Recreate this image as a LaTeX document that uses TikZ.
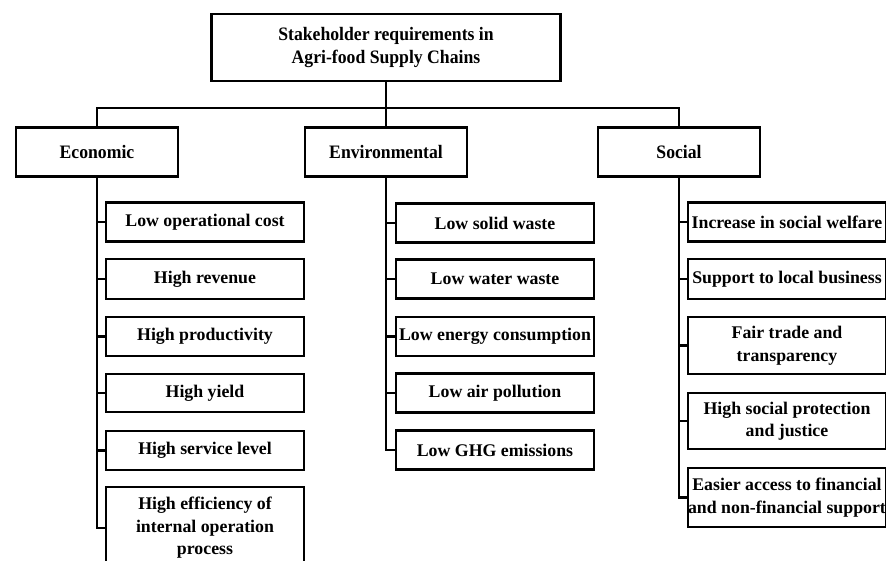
\documentclass[tikz,border=0pt]{standalone}
\usepackage{fontspec}
\setmainfont{Liberation Serif}
\newfontfamily\headfont[FakeStretch=0.93]{Liberation Serif}

\tikzset{
  headbox/.style={draw, line width=2.4pt, inner sep=0pt, align=center,
    minimum width=162pt, minimum height=49pt,
    font=\headfont\bfseries\fontsize{19}{22.5}\selectfont},
  itembox/.style={draw, line width=2.1pt, inner sep=0pt, align=center,
    minimum width=198pt,
    font=\bfseries\fontsize{17.8}{22.5}\selectfont},
  link/.style={line width=2.1pt},
}

\begin{document}
\begin{tikzpicture}[x=1pt, y=-1pt]
\useasboundingbox (0,0) rectangle (886,561);

% --- Root ---
\node[headbox, minimum width=349pt, minimum height=67pt] (root) at (386,47.5)
    {Stakeholder requirements in\\Agri-food Supply Chains};

% --- Three pillars ---
\node[headbox] (eco) at (97,152) {Economic};
\node[headbox] (env) at (386,152) {Environmental};
\node[headbox] (soc) at (679,152) {Social};

\draw[link] (root.south) -- (env.north);
\draw[link] (eco.north) -- ++(0,-18.5) -| (soc.north);

% --- Economic ---
\foreach \name/\ypos/\boxh/\txt in {
    e1/222/39/{Low operational cost},
    e2/279/40/{High revenue},
    e3/336.5/39/{High productivity},
    e4/393/38/{High yield},
    e5/450.5/39/{High service level},
    e6/528/82/{High efficiency of\\internal operation\\process}}
  \node[itembox, minimum height=\boxh pt] (\name) at (205,\ypos) {\txt};
\foreach \name in {e1,e2,e3,e4,e5}
  \draw[link] (eco.south |- \name.west) -- (\name.west);
\draw[link] (eco.south) |- (e6.west);

% --- Environmental ---
\foreach \name/\ypos/\txt in {
    v1/223/{Low solid waste},
    v2/279/{Low water waste},
    v3/336.5/{Low energy consumption},
    v4/393/{Low air pollution},
    v5/450/{Low GHG emissions}}
  \node[itembox, minimum height=39pt] (\name) at (495,\ypos) {\txt};
\foreach \name in {v1,v2,v3,v4}
  \draw[link] (env.south |- \name.west) -- (\name.west);
\draw[link] (env.south) |- (v5.west);

% --- Social ---
\foreach \name/\ypos/\boxh/\txt in {
    s1/222/39/{Increase in social welfare},
    s2/279/40/{Support to local business},
    s3/345.5/57/{Fair trade and\\transparency},
    s4/421/56/{High social protection\\and justice},
    s5/497.5/59/{Easier access to financial\\and non-financial support}}
  \node[itembox, minimum height=\boxh pt] (\name) at (787,\ypos) {\txt};
\foreach \name in {s1,s2,s3,s4}
  \draw[link] (soc.south |- \name.west) -- (\name.west);
\draw[link] (soc.south) |- (s5.west);
\end{tikzpicture}
\end{document}
